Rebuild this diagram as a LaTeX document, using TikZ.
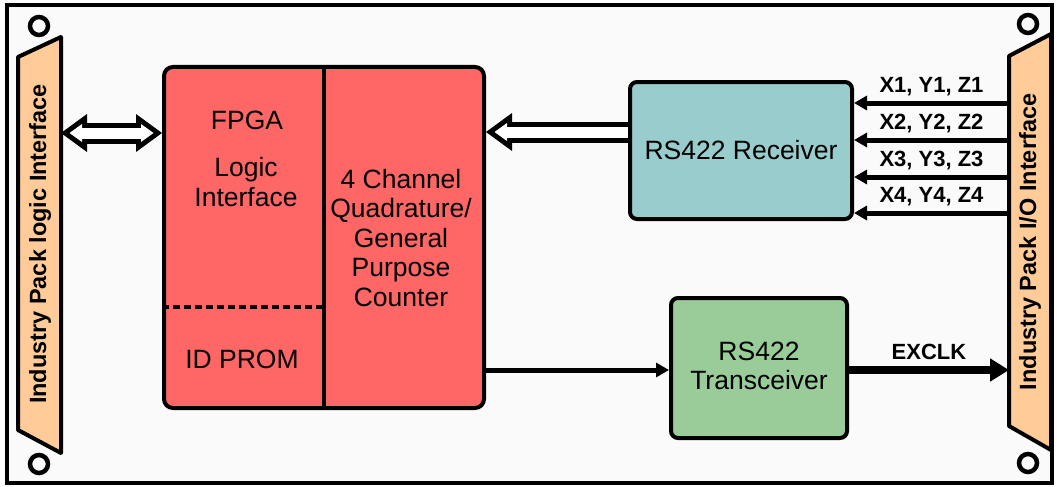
\documentclass[tikz,border=0pt]{standalone}
\usepackage{fontspec}
\setmainfont{Liberation Sans}
\usetikzlibrary{arrows.meta, positioning}
\definecolor{peach}{HTML}{FFCC99}
\definecolor{fpgared}{HTML}{FF6666}
\definecolor{rxblue}{HTML}{99CCCC}
\definecolor{txgreen}{HTML}{99CC99}
\definecolor{board}{HTML}{FAFAFA}

\begin{document}
\begin{tikzpicture}[x=1pt,y=-1pt,
	blk/.style={draw,line width=4pt,rounded corners=9pt,inner sep=0pt},
	panel/.style={draw,line width=4pt,fill=peach,line join=round},
	lbl/.style={font=\fontsize{26.5}{29.5}\selectfont,align=center},
	sidelbl/.style={font=\fontsize{23.5}{26}\selectfont\bfseries,rotate=90},
	siglbl/.style={font=\fontsize{22}{25}\selectfont\bfseries},
	hole/.style={draw,circle,line width=4.5pt,minimum size=18pt,inner sep=0pt},
	wire/.style={line width=5pt,-{Triangle[length=13pt,width=14pt]}},
	busout/.style={line width=21pt},
	busin/.style={line width=11pt,white},
	bushead/.tip={Triangle[length=26pt,width=38pt,line width=0pt]},
	businner/.tip={Triangle[length=12.5pt,width=18pt,line width=0pt]}]
	\useasboundingbox (0,0) rectangle (1057,487);
	\draw[line width=3.5pt,fill=board] (7,5) rectangle (1052,483);

	% mounting holes
	\node[hole] (h1) at (39,26) {};
	\node[hole] (h2) at (39,464) {};
	\node[hole] (h3) at (1028,24) {};
	\node[hole] (h4) at (1028,463) {};

	% industry pack panels
	\draw[panel] (18,57) -- (61,37) -- (61,453) -- (18,430) -- cycle;
	\draw[panel] (1009,56) -- (1051,34) -- (1051,450) -- (1009,426) -- cycle;
	\node[sidelbl] (lpanel) at (40,244) {Industry Pack logic Interface};
	\node[sidelbl] (rpanel) at (1030,242) {Industry Pack I/O Interface};
	\coordinate (lpio) at (61,133);
	\coordinate (rpclk) at (1009,370);
	\foreach \i/\y in {1/103,2/140,3/177,4/213}
		\coordinate (rpin\i) at (1009,\y);

	% blocks
	\node[blk,fill=fpgared,minimum width=320pt,minimum height=341pt] (fpga) at (324,237.5) {};
	\node[blk,fill=rxblue,minimum width=222pt,minimum height=137pt,rounded corners=7pt] (rx) at (741,150.5) {};
	\node[blk,fill=txgreen,minimum width=176pt,minimum height=140pt,rounded corners=7pt] (tx) at (759,368) {};
	\draw[line width=4pt] (fpga.north) -- (fpga.south);
	\draw[line width=4pt,dash pattern=on 7pt off 4pt] (fpga.west |- 0,307) -- (fpga.center |- 0,307);

	\node[lbl] (fpgat) at (247,120) {FPGA};
	\node[lbl] (logict) at (246,182) {Logic\\Interface};
	\node[lbl] (promt) at (242,359) {ID PROM};
	\node[lbl] (cntt) at (401,238) {4 Channel\\Quadrature/\\General\\Purpose\\Counter};
	\node[lbl] (rxt) at (rx.center) {RS422 Receiver};
	\node[lbl] (txt) at (759,366) {RS422\\Transceiver};

	% connections
	\draw[busout,bushead-bushead] (lpio) -- (fpga.west |- lpio);
	\draw[busin,businner-businner,shorten <=8.5pt,shorten >=8.5pt] (lpio) -- (fpga.west |- lpio);
	\draw[busout,-bushead] (rx.west |- 0,132) -- (fpga.east |- 0,132);
	\draw[busin,-businner,shorten >=8.5pt] (rx.west |- 0,132) -- (fpga.east |- 0,132);
	\foreach \i/\s in {1/{X1, Y1, Z1},2/{X2, Y2, Z2},3/{X3, Y3, Z3},4/{X4, Y4, Z4}}
		\draw[wire] (rpin\i) -- (rx.east |- rpin\i)
			node[siglbl,midway,above=1pt] {\s};
	\draw[wire] (fpga.east |- 0,370) -- (tx.west |- 0,370);
	\draw[line width=8pt,-{Triangle[length=19pt,width=22pt]}] (tx.east |- rpclk) -- (rpclk)
		node[siglbl,midway,above=3pt] {EXCLK};
\end{tikzpicture}
\end{document}
